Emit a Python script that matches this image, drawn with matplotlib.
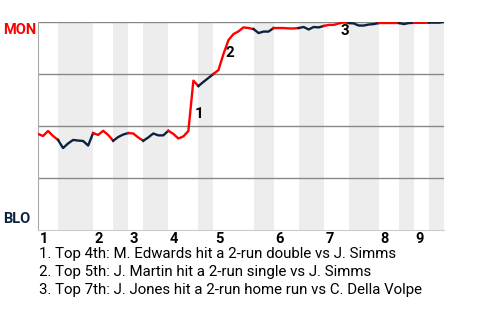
import matplotlib
matplotlib.use("Agg")
import matplotlib.pyplot as plt

plt.rcParams["font.family"] = ["Roboto", "DejaVu Sans"]

# MON win probability after each plate appearance (index 0 = first pitch)
win_prob = [
    0.462, 0.452, 0.476, 0.452, 0.433, 0.394, 0.416, 0.433, 0.430, 0.428,
    0.406, 0.466, 0.457, 0.477, 0.457, 0.429, 0.447, 0.459, 0.466, 0.464,
    0.445, 0.429, 0.445, 0.464, 0.455, 0.455, 0.477, 0.462, 0.440, 0.450,
    0.476, 0.718, 0.692, 0.712, 0.731, 0.750, 0.769, 0.846, 0.913, 0.942,
    0.955, 0.974, 0.971, 0.966, 0.947, 0.954, 0.954, 0.971, 0.971, 0.971,
    0.969, 0.969, 0.971, 0.976, 0.964, 0.976, 0.974, 0.981, 0.986, 0.986,
    0.993, 0.998, 0.995, 0.993, 0.983, 0.983, 0.988, 0.990, 0.995, 0.995,
    0.995, 0.995, 0.995, 0.990, 0.995, 0.996, 0.996, 0.996, 0.997, 0.997,
    0.997, 1.000,
]

# plate-appearance index where each half inning begins (top 1st .. bottom 9th, end)
half_starts = [0, 4, 11, 15, 18, 21, 26, 32, 35, 43, 47, 52, 57, 62, 68, 72, 75, 78, 81]
inning_labels = ["1", "2", "3", "4", "5", "6", "7", "8", "9"]

# key plays: (marker text, plate appearance index, win prob where label sits)
key_marks = ["1", "2", "3"]
key_x = [31.3, 37.4, 60.3]
key_y = [0.56, 0.85, 0.955]
key_notes = [
    "1. Top 4th: M. Edwards hit a 2-run double vs J. Simms",
    "2. Top 5th: J. Martin hit a 2-run single vs J. Simms",
    "3. Top 7th: J. Jones hit a 2-run home run vs C. Della Volpe",
]

home_team, away_team = "BLO", "MON"
away_color = "#ff0000"
home_color = "#0c2340"

fig = plt.figure(figsize=(4.8, 3.2), dpi=100)
ax = fig.add_axes([38 / 480, 1 - 230 / 320, 406 / 480, 208 / 320])

n_pa = half_starts[-1]
ax.set_xlim(0, n_pa)
ax.set_ylim(0, 1)

# shaded bottom halves + line segments coloured by batting team
for h in range(len(half_starts) - 1):
    a, b = half_starts[h], half_starts[h + 1]
    top_half = h % 2 == 0
    if not top_half:
        ax.axvspan(a, b, color="#ededed", lw=0, zorder=0)
    ax.plot(range(a, b + 1), win_prob[a:b + 1],
            color=away_color if top_half else home_color,
            lw=1.7, solid_joinstyle="round", zorder=3)

for yv in (0.25, 0.5, 0.75, 1.0):
    ax.axhline(yv, color="#888888", lw=1.0, zorder=1)

for s in ("top", "right"):
    ax.spines[s].set_visible(False)
ax.spines["left"].set_color("#aaaaaa")
ax.spines["bottom"].set_color("#cccccc")
ax.set_xticks([])
ax.set_yticks([])

# inning numbers, left-aligned at the start of each top half
for i, lab in enumerate(inning_labels):
    ax.text(half_starts[2 * i] + 0.3, -0.008, lab, ha="left", va="top",
            fontsize=10.5, fontweight="bold", color="black")

for m, xk, yk in zip(key_marks, key_x, key_y):
    ax.text(xk, yk, m, ha="left", va="center", fontsize=11,
            fontweight="bold", color="black", zorder=4)

fig.text(3 / 480, 1 - 23 / 320, away_team, ha="left", va="top",
         fontsize=10.5, fontweight="bold", color=away_color)
fig.text(3 / 480, 1 - 226 / 320, home_team, ha="left", va="bottom",
         fontsize=10.5, fontweight="bold", color=home_color)

for k, note in enumerate(key_notes):
    fig.text(39 / 480, 1 - (254 + 18 * k) / 320, note, ha="left", va="center",
             fontsize=10.8, color="black")

fig.savefig("out.png", dpi=100)
